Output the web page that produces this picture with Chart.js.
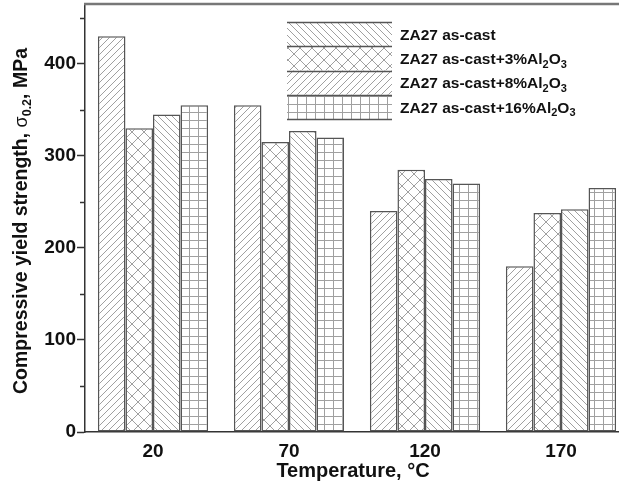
<!DOCTYPE html>
<html><head><meta charset="utf-8">
<script src="https://cdn.jsdelivr.net/npm/chart.js@4.4.1/dist/chart.umd.min.js"></script>
<style>html,body{margin:0;padding:0;background:#fff;overflow:hidden;width:619px;height:488px}canvas{display:block}</style>
</head><body><canvas id="c" width="640" height="488"></canvas>
<script>
// ---- data ----
const categories = ['20', '70', '120', '170'];
const seriesNames = ['ZA27 as-cast', 'ZA27 as-cast+3%Al2O3', 'ZA27 as-cast+8%Al2O3', 'ZA27 as-cast+16%Al2O3'];
const asCast = [430, 355, 240, 180];
const al3 = [330, 315, 285, 238];
const al8 = [345, 327, 275, 242];
const al16 = [355, 320, 270, 265];
const yMajorTicks = [0, 100, 200, 300, 400];
const yMinorTicks = [50, 150, 250, 350, 450];
const yMax = 465;
const xTitle = 'Temperature, \u00B0C';
const yTitleMain = 'Compressive yield strength, ';
const yTitleSymbol = '\u03C3';
const yTitleSub = '0.2';
const yTitleEnd = ', MPa';

const FONT = '"Liberation Sans", Arial, Helvetica, sans-serif';
const HATCH = '#a0a0a0';

function makePattern(kind) {
  const t = document.createElement('canvas');
  let w = 7, h = 7;
  if (kind === 'cross') { w = 12; h = 12; }
  if (kind === 'grid') { w = 9; h = 8; }
  t.width = w; t.height = h;
  const g = t.getContext('2d');
  g.fillStyle = '#fff'; g.fillRect(0, 0, w, h);
  g.strokeStyle = HATCH; g.lineWidth = 1;
  g.beginPath();
  if (kind === 'slash' || kind === 'cross') {
    g.moveTo(-1, 1); g.lineTo(1, -1);
    g.moveTo(0, h); g.lineTo(w, 0);
    g.moveTo(w - 1, h + 1); g.lineTo(w + 1, h - 1);
  }
  if (kind === 'back' || kind === 'cross') {
    g.moveTo(0, 0); g.lineTo(w, h);
    g.moveTo(-1, h - 1); g.lineTo(1, h + 1);
    g.moveTo(w - 1, -1); g.lineTo(w + 1, 1);
  }
  if (kind === 'grid') {
    g.moveTo(0.5, 0); g.lineTo(0.5, h);
    g.moveTo(0, 0.5); g.lineTo(w, 0.5);
  }
  g.stroke();
  return g.createPattern(t, 'repeat');
}

const barKinds = ['slash', 'cross', 'back', 'grid'];
const legendKinds = ['back', 'cross', 'slash', 'grid'];
const seriesValues = [asCast, al3, al8, al16];

function labelSegments(label, size) {
  const i = label.indexOf('%');
  const segs = [];
  if (i < 0) { segs.push({ t: label, size: size, dy: 0 }); return segs; }
  segs.push({ t: label.slice(0, i + 1), size: size, dy: 0 });
  const formula = label.slice(i + 1);
  const re = /([A-Za-z]+)(\d*)/g; let m;
  while ((m = re.exec(formula)) !== null) {
    if (!m[0]) break;
    segs.push({ t: m[1], size: size, dy: 0 });
    if (m[2]) segs.push({ t: m[2], size: Math.round(size * 0.68), dy: size * 0.3 });
  }
  return segs;
}

function drawSegs(ctx, x, y, segs, weight) {
  let cx = x;
  segs.forEach(s => {
    ctx.font = (s.weight || weight) + ' ' + s.size + 'px ' + FONT;
    ctx.fillText(s.t, cx, y + s.dy);
    cx += ctx.measureText(s.t).width;
  });
  return cx - x;
}
function measureSegs(ctx, segs, weight) {
  let w = 0;
  segs.forEach(s => { ctx.font = (s.weight || weight) + ' ' + s.size + 'px ' + FONT; w += ctx.measureText(s.t).width; });
  return w;
}

const decor = {
  id: 'decor',
  afterDraw(chart) {
    const ctx = chart.ctx;
    const a = chart.chartArea;
    const ys = chart.scales.y;
    ctx.save();
    // top and right frame
    ctx.strokeStyle = '#777'; ctx.lineWidth = 2.5;
    ctx.beginPath(); ctx.moveTo(a.left - 1, a.top); ctx.lineTo(a.right, a.top); ctx.lineTo(a.right, a.bottom); ctx.stroke();
    // minor ticks
    ctx.strokeStyle = '#333'; ctx.lineWidth = 1.5;
    yMinorTicks.forEach(v => {
      const py = Math.round(ys.getPixelForValue(v)) + 0.5;
      ctx.beginPath(); ctx.moveTo(a.left - 5, py); ctx.lineTo(a.left, py); ctx.stroke();
    });
    // x title
    ctx.fillStyle = '#111';
    ctx.font = 'bold 20px ' + FONT;
    ctx.textAlign = 'center'; ctx.textBaseline = 'middle';
    ctx.fillText(xTitle, (a.left + a.right) / 2 - 4, 471);
    // y title
    ctx.save();
    ctx.translate(22, 221);
    ctx.rotate(-Math.PI / 2);
    ctx.textAlign = 'left'; ctx.textBaseline = 'middle';
    const ysegs = [
      { t: yTitleMain, size: 19.5, dy: 0 },
      { t: yTitleSymbol, size: 18, dy: 0, weight: 'normal' },
      { t: yTitleSub, size: 12.5, dy: 6 },
      { t: yTitleEnd, size: 19.5, dy: 0 }
    ];
    const tw = measureSegs(ctx, ysegs, 'bold');
    drawSegs(ctx, -tw / 2, 0, ysegs, 'bold');
    ctx.restore();
    // legend
    const lx = 287, lw = 105, top = 22, rh = 24.25;
    seriesNames.forEach((name, i) => {
      const y0 = top + i * rh;
      ctx.fillStyle = makePattern(legendKinds[i]);
      ctx.fillRect(lx, y0, lw, rh);
    });
    ctx.strokeStyle = '#555'; ctx.lineWidth = 1.5;
    for (let i = 0; i <= seriesNames.length; i++) {
      const y0 = Math.round(top + i * rh) + 0.5;
      ctx.beginPath(); ctx.moveTo(lx, y0); ctx.lineTo(lx + lw, y0); ctx.stroke();
    }
    ctx.fillStyle = '#111';
    ctx.textAlign = 'left'; ctx.textBaseline = 'middle';
    seriesNames.forEach((name, i) => {
      const yc = top + i * rh + rh / 2 + 1.5;
      drawSegs(ctx, 400, yc, labelSegments(name, 15.5), 'bold');
    });
    ctx.restore();
  }
};

const datasets = seriesNames.map((name, i) => ({
  label: name,
  data: seriesValues[i],
  backgroundColor: makePattern(barKinds[i]),
  borderColor: '#555',
  borderWidth: 1.5,
  borderSkipped: false,
  categoryPercentage: 0.81,
  barPercentage: 1.0
}));

new Chart(document.getElementById('c'), {
  type: 'bar',
  data: { labels: categories, datasets: datasets },
  options: {
    responsive: false,
    animation: false,
    devicePixelRatio: 1,
    layout: { padding: { top: 4, right: 11, left: 0, bottom: 0 } },
    plugins: { legend: { display: false }, tooltip: { enabled: false } },
    scales: {
      x: {
        grid: { display: false, drawTicks: false },
        border: { color: '#333', width: 1.5 },
        ticks: { color: '#111', font: { family: FONT, size: 19, weight: 'bold' }, padding: 8 },
        afterFit: s => { s.height = 56; s.paddingLeft = 0; s.paddingRight = 0; }
      },
      y: {
        min: 0, max: yMax,
        border: { color: '#333', width: 1.5 },
        grid: {
          drawOnChartArea: false, tickLength: 8, tickWidth: 1.5,
          tickColor: c => (c.tick && yMajorTicks.includes(c.tick.value)) ? '#333' : 'rgba(0,0,0,0)'
        },
        ticks: {
          stepSize: 50, padding: 1, color: '#111',
          font: { family: FONT, size: 19, weight: 'bold' },
          callback: v => yMajorTicks.includes(v) ? String(v) : ''
        },
        afterFit: s => { s.width = 85; s.paddingTop = 0; s.paddingBottom = 0; }
      }
    }
  },
  plugins: [decor]
});
</script>
</body></html>
